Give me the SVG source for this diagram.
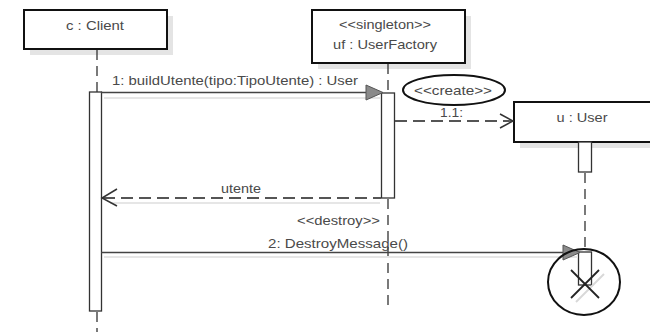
<svg xmlns="http://www.w3.org/2000/svg" width="650" height="332" viewBox="0 0 650 332">
  <style>
    .box { fill: #ffffff; stroke: #111111; stroke-width: 2; }
    .shadow { fill: #e4e4e4; }
    .lbl { font-family: "Liberation Sans", Arial, sans-serif; font-size: 13px; fill: #4a4a4a; }
    .life { fill: none; stroke: #333333; stroke-width: 1.3; stroke-dasharray: 10 6; }
    .act { fill: #ffffff; stroke: #333333; stroke-width: 1.3; }
    .msg { fill: none; stroke: #444444; stroke-width: 1.5; }
    .ret { fill: none; stroke: #555555; stroke-width: 1.8; stroke-dasharray: 12 6; }
    .faint { fill: none; stroke: #e6e6e6; stroke-width: 2; }
    .sync { fill: #8a8a8a; stroke: #555555; stroke-width: 1; }
    .open { fill: none; stroke: #333333; stroke-width: 1.5; }
    .mark { fill: none; stroke: #111111; stroke-width: 2; }
  </style>

  <!-- participant: c : Client -->
  <g id="client">
    <rect class="shadow" x="30" y="16" width="143" height="39"/>
    <rect class="box" x="24" y="10" width="143" height="39"/>
    <text class="lbl" x="95" y="30" text-anchor="middle" textLength="58" lengthAdjust="spacingAndGlyphs">c : Client</text>
  </g>

  <!-- participant: uf : UserFactory -->
  <g id="userfactory">
    <rect class="shadow" x="318" y="16" width="153" height="53"/>
    <rect class="box" x="312" y="10" width="153" height="53"/>
    <text class="lbl" x="385" y="29" text-anchor="middle" textLength="92" lengthAdjust="spacingAndGlyphs">&lt;&lt;singleton&gt;&gt;</text>
    <text class="lbl" x="385" y="49" text-anchor="middle" textLength="104" lengthAdjust="spacingAndGlyphs">uf : UserFactory</text>
  </g>

  <!-- participant: u : User -->
  <g id="user">
    <rect class="shadow" x="520" y="108" width="140" height="40"/>
    <rect class="box" x="514" y="102" width="146" height="40"/>
    <text class="lbl" x="582" y="122" text-anchor="middle" textLength="51" lengthAdjust="spacingAndGlyphs">u : User</text>
  </g>

  <!-- lifelines and activation bars -->
  <g id="lifelines">
    <line class="life" x1="97" y1="50" x2="97" y2="92"/>
    <line class="life" x1="97" y1="312" x2="97" y2="332" stroke-dasharray="5 5"/>
    <rect class="act" x="89.5" y="92" width="12" height="219"/>

    <line class="life" x1="388" y1="64" x2="388" y2="93"/>
    <line class="life" x1="388" y1="199" x2="388" y2="308"/>
    <rect class="act" x="381.5" y="93" width="13" height="105"/>

    <line class="life" x1="585" y1="173" x2="585" y2="252"/>
    <rect class="act" x="578.5" y="142" width="13" height="30"/>
    <rect class="act" x="578.5" y="252" width="13" height="33" stroke="#999999"/>
  </g>

  <!-- messages -->
  <g id="connectors">
    <!-- 1: synchronous call to the factory -->
    <line class="faint" x1="104" y1="98" x2="380" y2="98"/>
    <line class="msg" x1="101" y1="92.5" x2="368" y2="92.5"/>
    <polygon class="sync" points="366,85 383,92.5 366,100"/>

    <!-- 1.1: create -->
    <line class="ret" x1="395" y1="121" x2="512" y2="121" stroke-width="1.6" stroke-dasharray="11 6"/>
    <polyline class="open" points="500,114 513,121 500,128"/>

    <!-- reply -->
    <line class="faint" x1="110" y1="203" x2="380" y2="203"/>
    <line class="ret" x1="103" y1="198" x2="381" y2="198"/>
    <polyline class="open" points="117,189 102,198 117,206"/>

    <!-- 2: destroy -->
    <line class="faint" x1="104" y1="257" x2="578" y2="257"/>
    <line class="msg" x1="101" y1="252.5" x2="565" y2="252.5"/>
    <polygon class="sync" points="563,245 580,252.5 563,260"/>

    <!-- destruction mark -->
    <line x1="576" y1="302" x2="604" y2="274" stroke="#d8d8d8" stroke-width="2"/>
    <line x1="571" y1="270" x2="599" y2="298" stroke="#222222" stroke-width="1.8"/>
    <line x1="599" y1="270" x2="571" y2="298" stroke="#222222" stroke-width="1.8"/>
  </g>

  <!-- labels -->
  <g id="labels">
    <text class="lbl" x="112" y="85" textLength="246" lengthAdjust="spacingAndGlyphs">1: buildUtente(tipo:TipoUtente) : User</text>
    <text class="lbl" x="440" y="117" textLength="23" lengthAdjust="spacingAndGlyphs" fill="#777777">1.1:</text>
    <text class="lbl" x="221" y="193" textLength="40" lengthAdjust="spacingAndGlyphs">utente</text>
    <text class="lbl" x="297" y="225" textLength="83" lengthAdjust="spacingAndGlyphs">&lt;&lt;destroy&gt;&gt;</text>
    <text class="lbl" x="268" y="248" textLength="140" lengthAdjust="spacingAndGlyphs">2: DestroyMessage()</text>
  </g>

  <!-- highlight rings -->
  <g id="annotations">
    <ellipse cx="454" cy="90" rx="51" ry="15" class="mark"/>
    <text class="lbl" x="453" y="95" text-anchor="middle" textLength="78" lengthAdjust="spacingAndGlyphs">&lt;&lt;create&gt;&gt;</text>
    <ellipse cx="584" cy="282" rx="36" ry="33" class="mark"/>
  </g>
</svg>
